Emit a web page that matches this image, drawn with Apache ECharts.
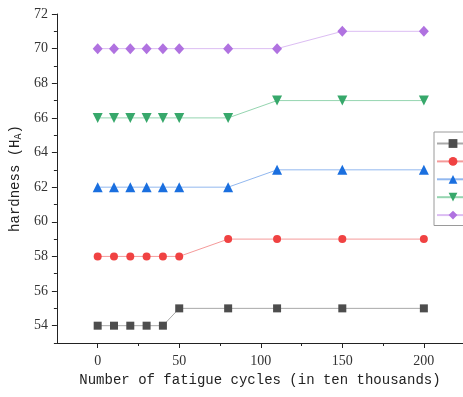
<!DOCTYPE html>
<html>
<head>
<meta charset="utf-8">
<script src="https://cdn.jsdelivr.net/npm/echarts@6/dist/echarts.min.js"></script>
<style>
  html, body { margin: 0; padding: 0; background: #fff; }
  #chart { width: 463px; height: 397px; }
</style>
</head>
<body>
<div id="chart"></div>
<script>
// Fatigue cycles (in ten thousands) at which hardness was measured
var cycles = [0, 10, 20, 30, 40, 50, 80, 110, 150, 200];

// Hardness readings (HA) for each sample
var sample1 = [54, 54, 54, 54, 54, 55, 55, 55, 55, 55];
var sample2 = [58, 58, 58, 58, 58, 58, 59, 59, 59, 59];
var sample3 = [62, 62, 62, 62, 62, 62, 62, 63, 63, 63];
var sample4 = [66, 66, 66, 66, 66, 66, 66, 67, 67, 67];
var sample5 = [70, 70, 70, 70, 70, 70, 70, 70, 71, 71];

var seriesNames = ['1', '2', '3', '4', '5'];

// Axis ticks
var xMajorTicks = [0, 50, 100, 150, 200];
var xMinorTicks = [25, 75, 125, 175];
var yMajorTicks = [54, 56, 58, 60, 62, 64, 66, 68, 70, 72];
var yMinorTicks = [53, 55, 57, 59, 61, 63, 65, 67, 69, 71];

function pairs(ys) {
  return cycles.map(function (x, i) { return [x, ys[i]]; });
}

var styles = [
  { color: '#4d4d4d', line: '#a9a9a9', symbol: 'rect', size: 8, rotate: 0 },
  { color: '#f04242', line: '#f59a9a', symbol: 'circle', size: 8, rotate: 0 },
  { color: '#1a6fdf', line: '#92b8ef', symbol: 'triangle', size: 10, rotate: 0 },
  { color: '#37a86b', line: '#95d5b0', symbol: 'triangle', size: 10, rotate: 180 },
  { color: '#b072e0', line: '#dcbdf3', symbol: 'diamond', size: [10, 11], rotate: 0 }
];
var values = [sample1, sample2, sample3, sample4, sample5];

var series = values.map(function (v, i) {
  var s = styles[i];
  return {
    name: seriesNames[i],
    type: 'line',
    data: pairs(v),
    symbol: s.symbol,
    symbolSize: s.size,
    symbolRotate: s.rotate,
    itemStyle: { color: s.color },
    lineStyle: { color: s.line, width: 1 },
    emphasis: { disabled: true },
    animation: false
  };
});

var axisColor = '#222';
var serif = 'Liberation Serif, serif';
var mono = 'Liberation Mono, monospace';

var chart = echarts.init(document.getElementById('chart'), null, { renderer: 'canvas' });
chart.setOption({
  backgroundColor: '#fff',
  animation: false,
  grid: { left: 56, top: 14, bottom: 54, right: 0, containLabel: false },
  legend: {
    show: true,
    orient: 'vertical',
    left: 434,
    top: 132,
    // legend shows only the line/marker keys; the box runs on past the right edge
    formatter: function () { return ''; },
    padding: [6, 40, 6, 2],
    itemWidth: 32,
    itemHeight: 11,
    itemGap: 8,
    borderColor: '#9a9a9a',
    borderWidth: 1,
    backgroundColor: '#fff',
    data: seriesNames
  },
  xAxis: [
    {
      type: 'value', min: -25, max: 224,
      name: 'Number of fatigue cycles (in ten thousands)',
      nameLocation: 'middle', nameGap: 30,
      nameTextStyle: { fontFamily: mono, fontSize: 14, color: '#222' },
      axisLine: { show: true, onZero: false, lineStyle: { color: axisColor, width: 1 } },
      axisTick: { show: true, inside: false, length: 5, customValues: xMajorTicks, lineStyle: { color: axisColor } },
      axisLabel: { customValues: xMajorTicks, margin: 11, fontFamily: serif, fontSize: 14, color: '#333' },
      splitLine: { show: false }
    },
    {
      type: 'value', min: -25, max: 224, position: 'bottom',
      axisLine: { show: false, onZero: false },
      axisTick: { show: true, inside: false, length: 3, customValues: xMinorTicks, lineStyle: { color: axisColor } },
      axisLabel: { show: false },
      splitLine: { show: false }
    }
  ],
  yAxis: [
    {
      type: 'value', min: 53, max: 72,
      name: 'hardness (H{sub|A})',
      nameLocation: 'middle', nameGap: 29, nameRotate: 90,
      nameTextStyle: {
        fontFamily: mono, fontSize: 14, color: '#222',
        rich: { sub: { fontFamily: mono, fontSize: 10, color: '#222', verticalAlign: 'bottom', padding: [6, 0, 0, 0] } }
      },
      axisLine: { show: true, onZero: false, lineStyle: { color: axisColor, width: 1 } },
      axisTick: { show: true, inside: false, length: 5, customValues: yMajorTicks, lineStyle: { color: axisColor } },
      axisLabel: { customValues: yMajorTicks, margin: 9, fontFamily: serif, fontSize: 14, color: '#333' },
      splitLine: { show: false }
    },
    {
      type: 'value', min: 53, max: 72, position: 'left',
      axisLine: { show: false, onZero: false },
      axisTick: { show: true, inside: false, length: 3, customValues: yMinorTicks, lineStyle: { color: axisColor } },
      axisLabel: { show: false },
      splitLine: { show: false }
    }
  ],
  series: series
});
</script>
</body>
</html>
